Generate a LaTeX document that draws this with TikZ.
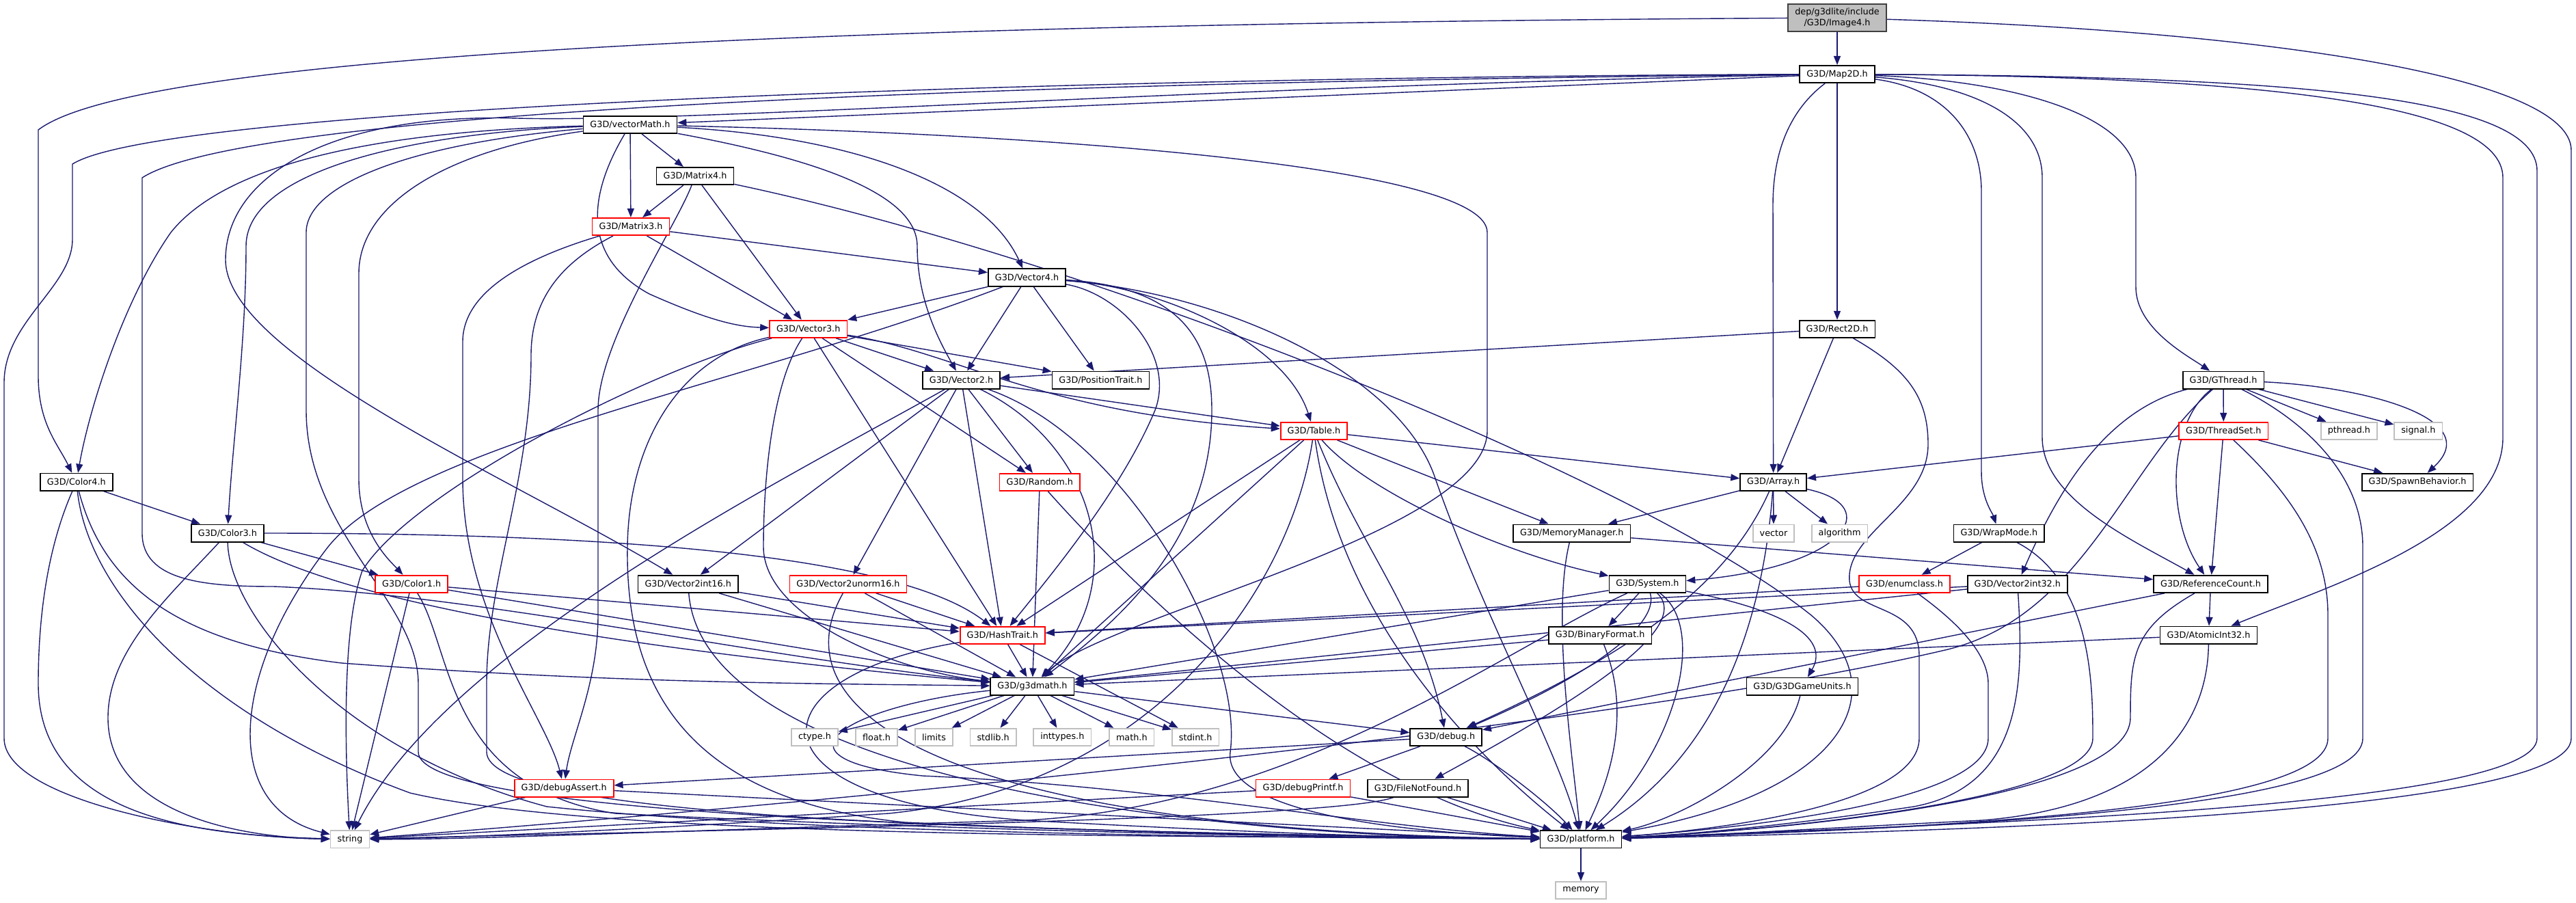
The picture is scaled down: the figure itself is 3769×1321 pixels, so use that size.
\documentclass[tikz,border=0pt]{standalone}
\usepackage{fontspec}
\setmainfont{DejaVu Sans}
\usetikzlibrary{arrows.meta}
\definecolor{edgecol}{HTML}{191970}
\definecolor{grayborder}{HTML}{BFBFBF}
\definecolor{rootfill}{HTML}{BFBFBF}
\pgfdeclarelayer{bg}
\pgfsetlayers{bg,main}
\tikzset{
  nd/.style={draw=black, line width=1.7pt, fill=white, inner xsep=10pt, inner ysep=0pt,
    minimum height=25.3pt, font=\fontsize{12.8}{15.4}\selectfont, text=black},
  ndred/.style={nd, draw=red},
  ndsys/.style={nd, draw=grayborder},
  ndroot/.style={nd, fill=rootfill, draw=black!75, align=center, minimum height=40pt},
  ed/.style={draw=edgecol, line width=1.4pt, -{Triangle[length=13pt,width=10pt]}},
}
\begin{document}
\begin{tikzpicture}[x=1pt,y=-1pt]
\useasboundingbox (0,0) rectangle (3769,1321);
% nodes
\node[ndroot] (img) at (2688,26) {dep/g3dlite/include\\/G3D/Image4.h};
\node[nd] (map) at (2688,108.5) {G3D/Map2D.h};
\node[nd] (vm) at (922,182.5) {G3D/vectorMath.h};
\node[nd] (m4) at (1017,257.5) {G3D/Matrix4.h};
\node[ndred] (m3) at (923,331.5) {G3D/Matrix3.h};
\node[nd] (v4) at (1502.5,406) {G3D/Vector4.h};
\node[ndred] (v3) at (1182.7,481.3) {G3D/Vector3.h};
\node[nd] (v2) at (1406.5,556) {G3D/Vector2.h};
\node[nd] (pos) at (1610.4,556) {G3D/PositionTrait.h};
\node[nd] (rect) at (2688,481.3) {G3D/Rect2D.h};
\node[nd] (gth) at (3253,556) {G3D/GThread.h};
\node[ndred] (tab) at (1922.4,630.3) {G3D/Table.h};
\node[ndred] (rnd) at (1521.3,705.3) {G3D/Random.h};
\node[nd] (arr) at (2594.6,705.3) {G3D/Array.h};
\node[ndred] (tset) at (3253.3,630.3) {G3D/ThreadSet.h};
\node[ndsys] (pth) at (3436.9,630.3) {pthread.h};
\node[ndsys] (sig) at (3538.3,630.3) {signal.h};
\node[nd] (spawn) at (3537,705.3) {G3D/SpawnBehavior.h};
\node[nd] (c4) at (111.8,705.2) {G3D/Color4.h};
\node[nd] (c3) at (332.9,780) {G3D/Color3.h};
\node[nd] (mm) at (2299.7,780) {G3D/MemoryManager.h};
\node[ndsys] (vec) at (2595,780) {vector};
\node[ndsys] (alg) at (2691.6,780) {algorithm};
\node[nd] (wrap) at (2924.8,780) {G3D/WrapMode.h};
\node[ndred] (c1) at (602.2,854.3) {G3D/Color1.h};
\node[nd] (v2i16) at (1006.7,854.3) {G3D/Vector2int16.h};
\node[ndred] (v2u16) at (1241,854.3) {G3D/Vector2unorm16.h};
\node[nd] (sys) at (2410.4,854.3) {G3D/System.h};
\node[ndred] (enm) at (2786.5,854.3) {G3D/enumclass.h};
\node[nd] (v2i32) at (2951.8,854.3) {G3D/Vector2int32.h};
\node[nd] (ref) at (3234.5,854.3) {G3D/ReferenceCount.h};
\node[ndred] (hash) at (1466.8,929.3) {G3D/HashTrait.h};
\node[nd] (binf) at (2341.1,929.3) {G3D/BinaryFormat.h};
\node[nd] (atom) at (3231.5,929.2) {G3D/AtomicInt32.h};
\node[nd] (g3m) at (1510.4,1004) {G3D/g3dmath.h};
\node[nd] (units) at (2637,1004) {G3D/G3DGameUnits.h};
\node[ndsys] (hctype) at (1192,1078.3) {ctype.h};
\node[ndsys] (hfloat) at (1282.6,1078.3) {float.h};
\node[ndsys] (hlimits) at (1366.5,1078.3) {limits};
\node[ndsys] (hstdlib) at (1453.1,1078.3) {stdlib.h};
\node[ndsys] (hinttypes) at (1554.3,1078.3) {inttypes.h};
\node[ndsys] (hmath) at (1655.8,1078.3) {math.h};
\node[ndsys] (hstdint) at (1749.2,1078.3) {stdint.h};
\node[nd] (dbg) at (2115.7,1078.3) {G3D/debug.h};
\node[ndred] (dbga) at (825.2,1153) {G3D/debugAssert.h};
\node[ndred] (dbgp) at (1906.5,1153) {G3D/debugPrintf.h};
\node[nd] (fnf) at (2074.5,1153) {G3D/FileNotFound.h};
\node[ndsys] (str) at (512,1227.8) {string};
\node[nd] (plat) at (2313,1227.8) {G3D/platform.h};
\node[ndsys] (mem) at (2313,1302.5) {memory};

\begin{pgfonlayer}{bg}
\fill[white] (0,0) rectangle (3769,1321);
% Image4
\draw[ed] (img) -- (map);
\draw[ed] (img) .. controls (1200,35) and (200,80) .. (56,190) -- (56,550) .. controls (56,620) and (85,650) .. (c4);
\draw[ed] (img) .. controls (3300,45) and (3762,110) .. (3762,220) -- (3762,1080) .. controls (3762,1190) and (2900,1215) .. (plat);
% Map2D
\draw[ed] (map) .. controls (1700,112) and (250,150) .. (106,240) -- (106,350) .. controls (106,420) and (6,470) .. (6,560) -- (6,1080) .. controls (6,1170) and (300,1225) .. (str);
\draw[ed] (map) .. controls (1700,118) and (380,150) .. (208,260) -- (208,780) .. controls (208,850) and (300,858) .. (400,858) .. controls (700,870) and (1100,960) .. (g3m);
\draw[ed] (map) .. controls (1800,125) and (1000,180) .. (757,173) .. controls (480,165) and (330,260) .. (330,380) .. controls (330,520) and (750,700) .. (v2i16);
\draw[ed] (map) -- (vm);
\draw[ed] (map) .. controls (2620,160) and (2594,220) .. (2594,300) -- (arr);
\draw[ed] (map) -- (rect);
\draw[ed] (map) .. controls (2850,130) and (2899,200) .. (2899,280) -- (2899,690) .. controls (2899,730) and (2915,750) .. (wrap);
\draw[ed] (map) .. controls (2900,125) and (2988,180) .. (2988,260) -- (2988,640) .. controls (2988,730) and (3120,790) .. (ref);
\draw[ed] (map) .. controls (2950,118) and (3125,170) .. (3125,260) -- (3125,420) .. controls (3125,480) and (3200,520) .. (gth);
\draw[ed] (map) .. controls (3300,112) and (3662,150) .. (3662,260) -- (3662,640) .. controls (3662,780) and (3400,860) .. (atom);
\draw[ed] (map) .. controls (3350,112) and (3712,140) .. (3712,250) -- (3712,1080) .. controls (3712,1180) and (2900,1205) .. (plat);
% vectorMath
\draw[ed] (vm) .. controls (550,192) and (330,240) .. (250,340) .. controls (180,440) and (130,600) .. (c4);
\draw[ed] (vm) .. controls (600,195) and (360,250) .. (360,360) .. controls (360,500) and (340,650) .. (c3);
\draw[ed] (vm) .. controls (600,210) and (448,270) .. (448,340) -- (448,600) .. controls (448,780) and (612,880) .. (612,1000) -- (612,1100) .. controls (612,1190) and (1400,1215) .. (plat);
\draw[ed] (vm) .. controls (650,220) and (525,300) .. (525,400) -- (525,700) .. controls (525,780) and (570,820) .. (c1);
\draw[ed] (vm) .. controls (870,270) and (840,370) .. (950,430) .. controls (1040,470) and (1080,478) .. (v3);
\draw[ed] (vm) -- (m3);
\draw[ed] (vm) -- (m4);
\draw[ed] (vm) .. controls (1180,230) and (1342,280) .. (1342,360) .. controls (1342,440) and (1375,500) .. (v2);
\draw[ed] (vm) .. controls (1250,200) and (1440,270) .. (v4);
\draw[ed] (vm) .. controls (1500,195) and (2176,240) .. (2176,340) -- (2176,630) .. controls (2176,780) and (1620,900) .. (g3m);
% Matrix4
\draw[ed] (m4) -- (m3);
\draw[ed] (m4) .. controls (990,330) and (875,500) .. (875,600) -- (875,900) .. controls (875,1000) and (835,1080) .. (dbga);
\draw[ed] (m4) -- (v3);
\draw[ed] (m4) .. controls (1600,380) and (2400,700) .. (2650,900) .. controls (2780,1010) and (2700,1160) .. (plat);
% Matrix3
\draw[ed] (m3) -- (v4);
\draw[ed] (m3) -- (v3);
\draw[ed] (m3) .. controls (760,380) and (677,430) .. (677,500) -- (677,700) .. controls (677,900) and (800,1050) .. (dbga);
\draw[ed] (m3) .. controls (830,380) and (777,430) .. (777,520) .. controls (777,700) and (712,850) .. (712,1000) -- (712,1100) .. controls (712,1195) and (1400,1215) .. (plat);
% Vector4
\draw[ed] (v4) -- (v3);
\draw[ed] (v4) .. controls (1100,560) and (600,650) .. (480,800) .. controls (340,980) and (320,1180) .. (str);
\draw[ed] (v4) -- (v2);
\draw[ed] (v4) -- (pos);
\draw[ed] (v4) .. controls (1640,430) and (1720,520) .. (1690,600) .. controls (1640,720) and (1530,850) .. (hash);
\draw[ed] (v4) .. controls (1730,420) and (1773,500) .. (1773,600) .. controls (1773,800) and (1620,920) .. (g3m);
\draw[ed] (v4) .. controls (1800,430) and (2050,550) .. (2100,700) .. controls (2170,900) and (2280,1100) .. (plat);
\draw[ed] (v4) .. controls (1700,420) and (1880,500) .. (tab);
% Vector3
\draw[ed] (v3) -- (v2);
\draw[ed] (v3) -- (pos);
\draw[ed] (v3) .. controls (1400,515) and (1520,605) .. (tab);
\draw[ed] (v3) -- (rnd);
\draw[ed] (v3) -- (hash);
\draw[ed] (v3) .. controls (1130,560) and (1117,700) .. (1117,800) .. controls (1117,900) and (1300,980) .. (g3m);
\draw[ed] (v3) .. controls (950,540) and (600,720) .. (530,835) .. controls (500,920) and (505,1100) .. (str);
\draw[ed] (v3) .. controls (1000,520) and (920,640) .. (918,800) .. controls (915,1000) and (1000,1170) .. (1324,1203) .. controls (1700,1220) and (2000,1226) .. (plat);
% Vector2
\draw[ed] (v2) .. controls (1150,700) and (650,950) .. (str);
\draw[ed] (v2) -- (v2i16);
\draw[ed] (v2) -- (v2u16);
\draw[ed] (v2) -- (hash);
\draw[ed] (v2) -- (rnd);
\draw[ed] (v2) .. controls (1600,650) and (1660,850) .. (g3m);
\draw[ed] (v2) .. controls (1650,640) and (1820,950) .. (1800,1100) .. controls (1790,1180) and (2000,1215) .. (plat);
\draw[ed] (v2) -- (tab);
% Rect2D
\draw[ed] (rect) -- (v2);
\draw[ed] (rect) -- (arr);
\draw[ed] (rect) .. controls (2790,540) and (2821,580) .. (2821,650) .. controls (2821,740) and (2700,780) .. (2706,850) .. controls (2712,900) and (2808,880) .. (2808,960) -- (2808,1080) .. controls (2808,1180) and (2500,1215) .. (plat);
% GThread
\draw[ed] (gth) .. controls (3080,600) and (3010,720) .. (v2i32);
\draw[ed] (gth) .. controls (3170,620) and (3170,760) .. (ref);
\draw[ed] (gth) .. controls (3110,680) and (3050,900) .. (2850,950) .. controls (2300,1080) and (900,1200) .. (str);
\draw[ed] (gth) -- (tset);
\draw[ed] (gth) .. controls (3380,620) and (3457,700) .. (3457,800) -- (3457,1080) .. controls (3457,1180) and (2900,1210) .. (plat);
\draw[ed] (gth) -- (pth);
\draw[ed] (gth) -- (sig);
\draw[ed] (gth) .. controls (3450,565) and (3640,610) .. (spawn);
% ThreadSet
\draw[ed] (tset) -- (arr);
\draw[ed] (tset) -- (spawn);
\draw[ed] (tset) -- (ref);
\draw[ed] (tset) .. controls (3350,720) and (3406,800) .. (3406,900) -- (3406,1080) .. controls (3406,1180) and (2900,1210) .. (plat);
% Table
\draw[ed] (tab) -- (arr);
\draw[ed] (tab) -- (mm);
\draw[ed] (tab) .. controls (2000,720) and (2200,810) .. (sys);
\draw[ed] (tab) -- (hash);
\draw[ed] (tab) -- (g3m);
\draw[ed] (tab) .. controls (1890,850) and (1700,1150) .. (1300,1190) .. controls (1000,1210) and (700,1225) .. (str);
\draw[ed] (tab) .. controls (1990,800) and (2080,900) .. (dbg);
\draw[ed] (tab) .. controls (1960,900) and (2150,1100) .. (plat);
% Random
\draw[ed] (rnd) -- (g3m);
\draw[ed] (rnd) .. controls (1650,850) and (1950,1150) .. (plat);
% Array
\draw[ed] (arr) -- (mm);
\draw[ed] (arr) -- (vec);
\draw[ed] (arr) -- (alg);
\draw[ed] (arr) .. controls (2760,740) and (2700,830) .. (sys);
\draw[ed] (arr) .. controls (2530,850) and (2400,950) .. (dbg);
\draw[ed] (arr) .. controls (2580,900) and (2520,1100) .. (plat);
% MemoryManager
\draw[ed] (mm) -- (ref);
\draw[ed] (mm) .. controls (2270,900) and (2300,1100) .. (plat);
% System
\draw[ed] (sys) -- (binf);
\draw[ed] (sys) -- (g3m);
\draw[ed] (sys) .. controls (2600,890) and (2680,930) .. (units);
\draw[ed] (sys) .. controls (2430,920) and (2300,1000) .. (dbg);
\draw[ed] (sys) .. controls (2480,920) and (2300,1030) .. (fnf);
\draw[ed] (sys) .. controls (2500,920) and (2450,1100) .. (plat);
\draw[ed] (sys) .. controls (2200,950) and (1900,1180) .. (1500,1200) .. controls (1000,1215) and (700,1228) .. (str);
% BinaryFormat
\draw[ed] (binf) -- (g3m);
\draw[ed] (binf) .. controls (2390,1050) and (2350,1150) .. (plat);
% G3DGameUnits
\draw[ed] (units) .. controls (2610,1120) and (2450,1200) .. (plat);
% debug
\draw[ed] (dbg) -- (dbgp);
\draw[ed] (dbg) .. controls (2180,1110) and (2260,1170) .. (plat);
\draw[ed] (dbg) -- (dbga);
% debugPrintf
\draw[ed] (dbgp) -- (plat);
\draw[ed] (dbgp) -- (str);
% FileNotFound
\draw[ed] (fnf) -- (plat);
\draw[ed] (fnf) .. controls (1950,1200) and (1000,1215) .. (str);
% debugAssert
\draw[ed] (dbga) -- (str);
\draw[ed] (dbga) -- (plat);
% HashTrait
\draw[ed] (hash) -- (g3m);
\draw[ed] (hash) -- (hstdint);
\draw[ed] (hash) .. controls (1100,990) and (1080,1170) .. (1500,1200) .. controls (1900,1222) and (2100,1226) .. (plat);
% g3dmath
\draw[ed] (g3m) -- (hctype);
\draw[ed] (g3m) -- (hfloat);
\draw[ed] (g3m) -- (hlimits);
\draw[ed] (g3m) -- (hstdlib);
\draw[ed] (g3m) -- (hinttypes);
\draw[ed] (g3m) -- (hmath);
\draw[ed] (g3m) -- (hstdint);
\draw[ed] (g3m) -- (dbg);
\draw[ed] (g3m) .. controls (1250,1030) and (1100,1110) .. (1350,1135) .. controls (1700,1150) and (2000,1210) .. (plat);
% Color4
\draw[ed] (c4) -- (c3);
\draw[ed] (c4) .. controls (70,800) and (56,900) .. (56,1000) .. controls (56,1200) and (300,1222) .. (str);
\draw[ed] (c4) .. controls (130,870) and (300,1050) .. (600,1160) .. controls (900,1230) and (1800,1222) .. (plat);
\draw[ed] (c4) .. controls (150,850) and (250,940) .. (500,970) .. controls (900,1000) and (1200,1000) .. (g3m);
% Color3
\draw[ed] (c3) -- (c1);
\draw[ed] (c3) .. controls (800,780) and (1300,800) .. (hash);
\draw[ed] (c3) .. controls (250,870) and (158,950) .. (158,1050) .. controls (158,1190) and (350,1225) .. (str);
\draw[ed] (c3) .. controls (335,900) and (500,1100) .. (800,1180) .. controls (1200,1222) and (1900,1225) .. (plat);
\draw[ed] (c3) .. controls (450,850) and (700,930) .. (g3m);
% Color1
\draw[ed] (c1) -- (hash);
\draw[ed] (c1) -- (g3m);
\draw[ed] (c1) -- (str);
\draw[ed] (c1) .. controls (663,950) and (650,1150) .. (900,1190) .. controls (1400,1215) and (1900,1225) .. (plat);
% Vector2int16
\draw[ed] (v2i16) -- (hash);
\draw[ed] (v2i16) -- (g3m);
\draw[ed] (v2i16) .. controls (1030,1150) and (1800,1225) .. (plat);
% Vector2unorm16
\draw[ed] (v2u16) -- (hash);
\draw[ed] (v2u16) -- (g3m);
\draw[ed] (v2u16) .. controls (1130,1050) and (1400,1215) .. (plat);
% Vector2int32
\draw[ed] (v2i32) -- (hash);
\draw[ed] (v2i32) -- (g3m);
\draw[ed] (v2i32) .. controls (2961,1000) and (2960,1150) .. (2800,1180) .. controls (2600,1210) and (2450,1222) .. (plat);
% enumclass
\draw[ed] (enm) -- (hash);
\draw[ed] (enm) .. controls (2850,900) and (2909,950) .. (2909,1000) -- (2909,1080) .. controls (2909,1180) and (2500,1215) .. (plat);
% WrapMode
\draw[ed] (wrap) -- (enm);
\draw[ed] (wrap) .. controls (3060,850) and (3062,1000) .. (3062,1080) .. controls (3062,1170) and (2600,1215) .. (plat);
% ReferenceCount
\draw[ed] (ref) -- (atom);
\draw[ed] (ref) -- (dbg);
\draw[ed] (ref) .. controls (3120,920) and (3117,960) .. (3117,1050) .. controls (3117,1170) and (2600,1215) .. (plat);
% AtomicInt32
\draw[ed] (atom) -- (g3m);
\draw[ed] (atom) .. controls (3230,1060) and (3150,1180) .. (2900,1200) .. controls (2600,1215) and (2450,1225) .. (plat);
% platform
\draw[ed] (plat) -- (mem);
\end{pgfonlayer}
\end{tikzpicture}
\end{document}
